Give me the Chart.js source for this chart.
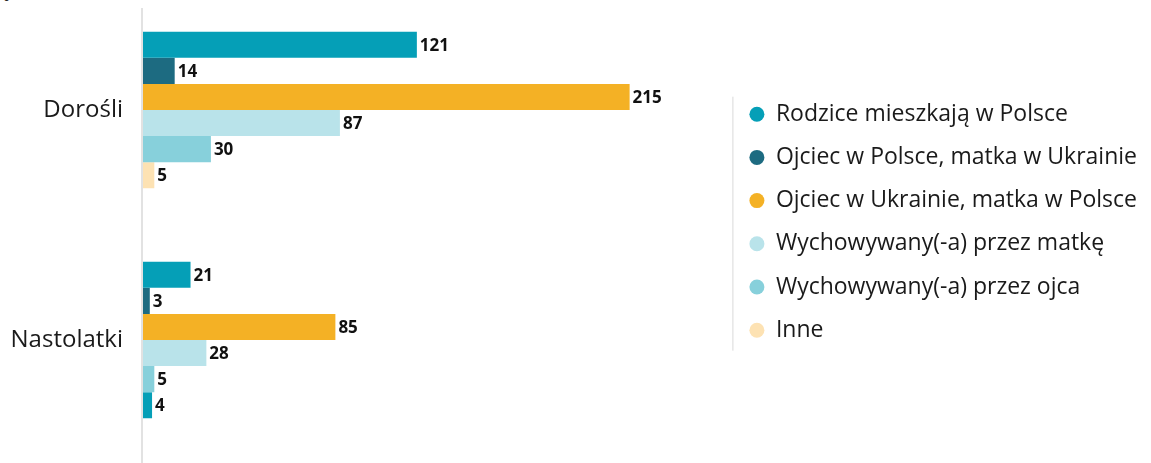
<!DOCTYPE html>
<html>
<head>
<meta charset="utf-8">
<script src="https://cdn.jsdelivr.net/npm/chart.js@4/dist/chart.umd.min.js"></script>
<style>
  html, body { margin: 0; padding: 0; background: #fff; overflow: hidden; }
  body { width: 1151px; height: 463px; position: relative; }
  #wrap { position: absolute; left: 0; top: -20px; width: 1151px; height: 483px; }
  #unit { position: absolute; left: -6px; top: -16px; font: 20px "Open Sans", sans-serif; line-height: 20px; color: #222; }
</style>
</head>
<body>
<div id="unit">%</div>
<div id="wrap"><canvas id="c"></canvas></div>
<script>
const categories = ['Dorośli', 'Nastolatki'];
const seriesNames = [
  'Rodzice mieszkają w Polsce',
  'Ojciec w Polsce, matka w Ukrainie',
  'Ojciec w Ukrainie, matka w Polsce',
  'Wychowywany(-a) przez matkę',
  'Wychowywany(-a) przez ojca',
  'Inne'
];
const rodziceWPolsce = [121, 21];
const ojciecWPolsce = [14, 3];
const ojciecWUkrainie = [215, 85];
const przezMatke = [87, 28];
const przezOjca = [30, 5];
const inne = [5, 4];

const FONT = '"Open Sans", sans-serif';
const colors = ['#059fb7', '#1d6b81', '#f4b125', '#b9e3ea', '#87d0db', '#fde2b3'];

const valueLabels = {
  id: 'valueLabels',
  afterDatasetsDraw(chart) {
    const ctx = chart.ctx;
    ctx.save();
    ctx.font = 'bold 17px ' + FONT;
    ctx.fillStyle = '#111';
    ctx.textBaseline = 'middle';
    ctx.textAlign = 'left';
    chart.data.datasets.forEach((ds, i) => {
      const meta = chart.getDatasetMeta(i);
      meta.data.forEach((el, j) => {
        ctx.fillText(String(ds.data[j]), el.x + 3, el.y + 1);
      });
    });
    ctx.restore();
  }
};

const widenLegend = {
  id: 'widenLegend',
  beforeLayout(chart) {
    const lg = chart.legend;
    if (lg && !lg._widened) {
      const orig = lg.update.bind(lg);
      lg.update = (mw, mh, m) => orig(Math.max(mw, 520), mh, m);
      lg._widened = true;
    }
  }
};

const decorations = {
  id: 'decorations',
  afterDraw(chart) {
    const ctx = chart.ctx;
    const ca = chart.chartArea;
    ctx.save();
    ctx.strokeStyle = '#d9d9d9';
    ctx.lineWidth = 1.5;
    ctx.beginPath();
    ctx.moveTo(ca.left - 1, ca.top + 13);
    ctx.lineTo(ca.left - 1, chart.height);
    ctx.stroke();
    const lg = chart.legend;
    if (lg && lg.legendHitBoxes && lg.legendHitBoxes.length) {
      const hb = lg.legendHitBoxes;
      const x = hb[0].left - 17;
      const top = hb[0].top - 6;
      const last = hb[hb.length - 1];
      const bottom = last.top + last.height + 9;
      ctx.strokeStyle = '#d9d9d9';
      ctx.lineWidth = 1;
      ctx.beginPath();
      ctx.moveTo(x + 0.5, top);
      ctx.lineTo(x + 0.5, bottom);
      ctx.stroke();
    }
    ctx.restore();
  }
};

const seriesData = [rodziceWPolsce, ojciecWPolsce, ojciecWUkrainie, przezMatke, przezOjca, inne];
const datasets = seriesNames.map((name, i) => ({
  label: name,
  data: seriesData[i],
  backgroundColor: i === 5 ? [colors[5], colors[0]] : colors[i],
  borderWidth: 0,
  categoryPercentage: 0.68,
  barPercentage: 1.0
}));

new Chart(document.getElementById('c'), {
  type: 'bar',
  data: { labels: categories, datasets },
  plugins: [widenLegend, valueLabels, decorations],
  options: {
    indexAxis: 'y',
    responsive: true,
    maintainAspectRatio: false,
    animation: false,
    layout: { padding: { top: 15, bottom: 8, left: 0, right: 4 } },
    scales: {
      x: { display: false, min: 0, max: 259 },
      y: {
        grid: { display: false, drawTicks: false },
        border: { display: false },
        ticks: { color: '#1a1a1a', font: { family: FONT, size: 24 }, padding: 20 },
        afterFit(scale) { scale.width = 143; scale.paddingTop = 0; scale.paddingBottom = 0; }
      }
    },
    plugins: {
      tooltip: { enabled: false },
      legend: {
        position: 'right',
        align: 'start',
        title: { display: true, text: '', font: { size: 10 }, padding: { top: 75.5, bottom: 0 } },
        labels: {
          usePointStyle: true,
          pointStyle: 'circle',
          pointStyleWidth: 15,
          boxHeight: 10.6,
          padding: 20.2,
          color: '#1a1a1a',
          font: { family: FONT, size: 23 },
          generateLabels(chart) {
            return chart.data.datasets.map((ds, i) => ({
              text: ds.label,
              fillStyle: colors[i],
              strokeStyle: colors[i],
              lineWidth: 0,
              pointStyle: 'circle',
              hidden: false,
              datasetIndex: i,
              fontColor: '#1a1a1a'
            }));
          }
        }
      }
    }
  }
});
</script>
</body>
</html>
